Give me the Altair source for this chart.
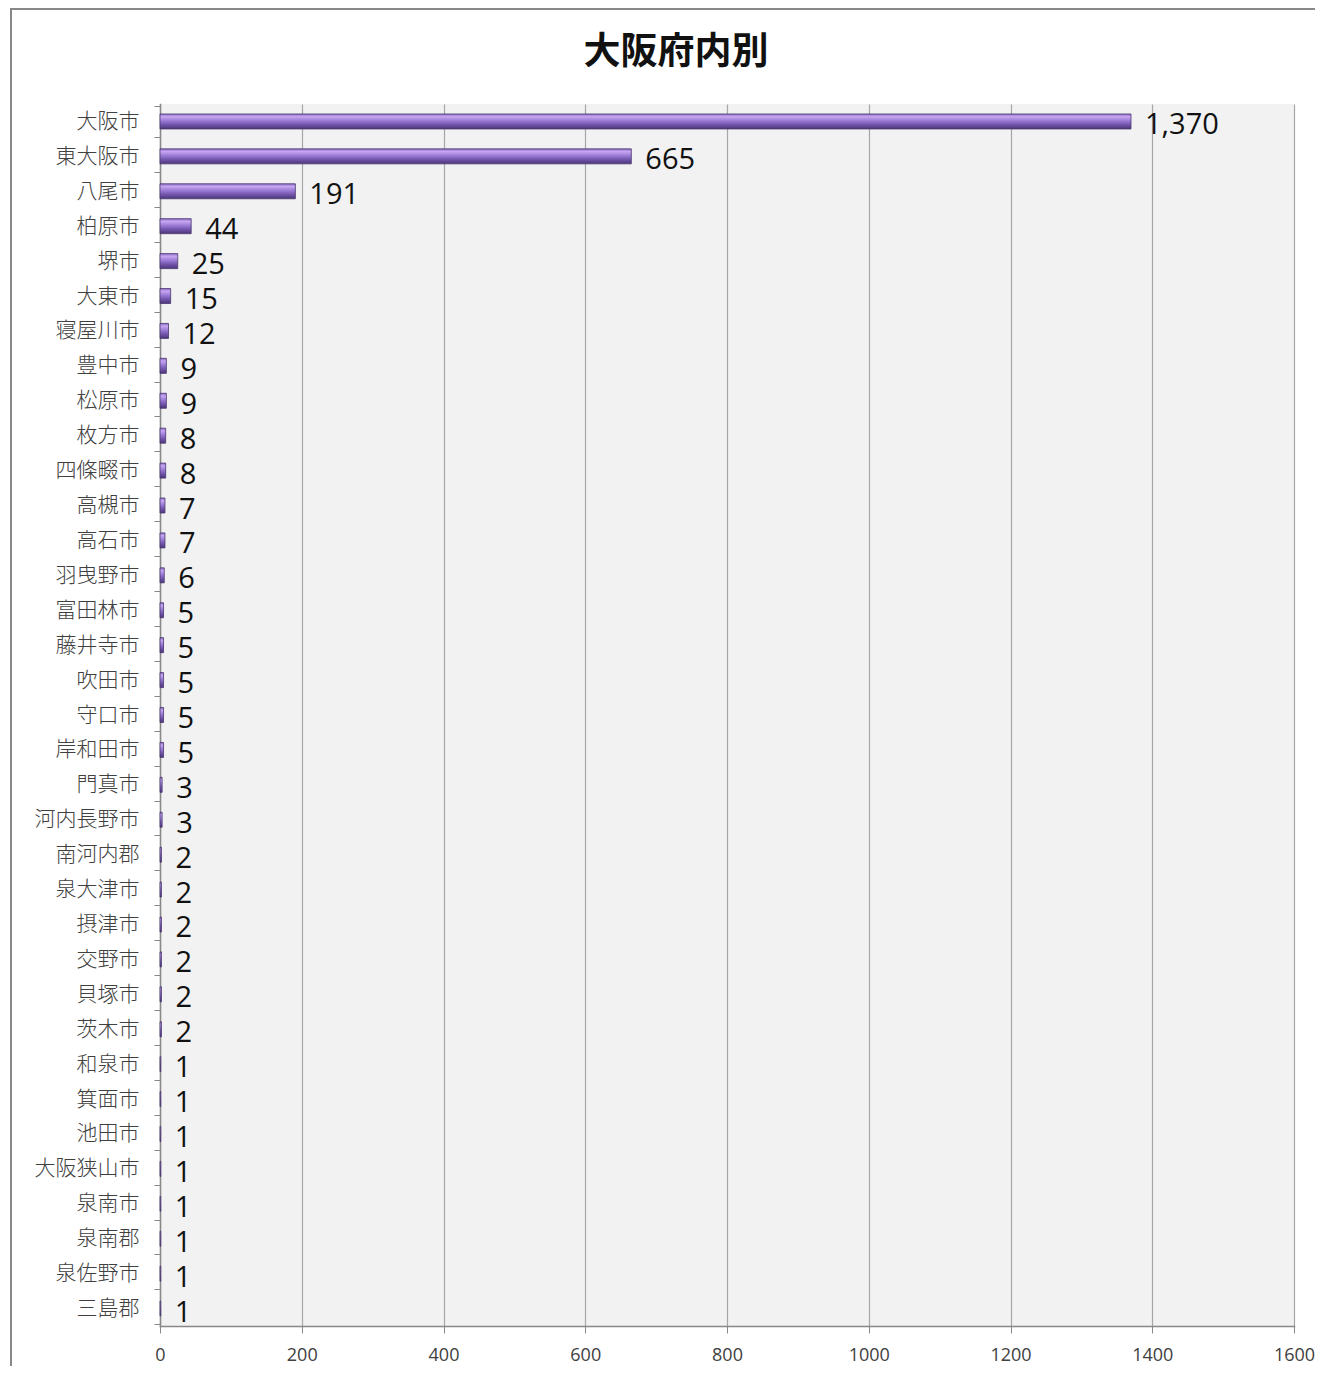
import altair as alt
import pandas as pd

title_text = "大阪府内別"
cities = ["大阪市", "東大阪市", "八尾市", "柏原市", "堺市", "大東市", "寝屋川市", "豊中市", "松原市",
          "枚方市", "四條畷市", "高槻市", "高石市", "羽曳野市", "富田林市", "藤井寺市", "吹田市",
          "守口市", "岸和田市", "門真市", "河内長野市", "南河内郡", "泉大津市", "摂津市", "交野市",
          "貝塚市", "茨木市", "和泉市", "箕面市", "池田市", "大阪狭山市", "泉南市", "泉南郡",
          "泉佐野市", "三島郡"]
counts = [1370, 665, 191, 44, 25, 15, 12, 9, 9, 8, 8, 7, 7, 6, 5, 5, 5, 5, 5, 3, 3, 2, 2, 2, 2,
          2, 2, 1, 1, 1, 1, 1, 1, 1, 1]
x_ticks = [0, 200, 400, 600, 800, 1000, 1200, 1400, 1600]

df = pd.DataFrame({"city": cities, "count": counts})

W, H = 1134, 1222

y_enc = alt.Y("city:N", sort=cities, title=None,
              axis=alt.Axis(labelFont="Noto Sans CJK JP", labelFontSize=21, labelFontWeight=300,
                            labelColor="#404040",
                            labelPadding=15, tickSize=6, tickColor="#888888", tickBand="extent",
                            domainColor="#888888", domainWidth=1.5, grid=False))
x_enc = alt.X("count:Q", title=None,
              scale=alt.Scale(domain=[0, 1600], nice=False),
              axis=alt.Axis(values=x_ticks, format="d", labelFont="Open Sans", labelFontSize=18,
                            labelColor="#404040", labelPadding=13, tickSize=7, tickColor="#888888",
                            domainColor="#888888", domainWidth=1.5, gridColor="#a6a6a6",
                            gridWidth=1.2, labelFlush=False))

grad = alt.Gradient(
    gradient="linear", x1=0, x2=0, y1=0, y2=1,
    stops=[alt.GradientStop(offset=0, color="#8a6cc4"),
           alt.GradientStop(offset=0.18, color="#c8a6f2"),
           alt.GradientStop(offset=0.42, color="#9f80d8"),
           alt.GradientStop(offset=0.7, color="#7456ae"),
           alt.GradientStop(offset=1, color="#4b3677")])

border = alt.Chart(pd.DataFrame({"a": [0]})).mark_rect(
    fill="transparent", stroke="#888888", strokeWidth=2
).encode(x=alt.value(-149), x2=alt.value(1200), y=alt.value(-95), y2=alt.value(1300))

title = alt.Chart(pd.DataFrame({"t": [title_text]})).mark_text(
    font="Noto Sans CJK JP", fontSize=37, fontWeight="bold", color="#111111",
    align="center", baseline="middle"
).encode(x=alt.value(516), y=alt.value(-51), text="t:N")

bars = alt.Chart(df).mark_bar(height=15, fill=grad, stroke="#4a3670", strokeWidth=0.8).encode(
    x=x_enc, y=y_enc)

labels = alt.Chart(df).mark_text(
    align="left", baseline="middle", dx=14, dy=4, font="Open Sans", fontSize=29, color="#111111"
).encode(x="count:Q", y=alt.Y("city:N", sort=cities), text=alt.Text("count:Q", format=","))

chart = alt.layer(border, title, bars, labels).properties(
    width=W, height=H,
    padding={"left": 152, "top": 96, "right": 21, "bottom": 40},
    autosize=alt.AutoSizeParams(type="none"),
).configure_view(fill="#f2f2f2", stroke=None).configure_axis(domainCap="square")

chart.save("out.html", embed_options={"renderer": "svg", "actions": False})
